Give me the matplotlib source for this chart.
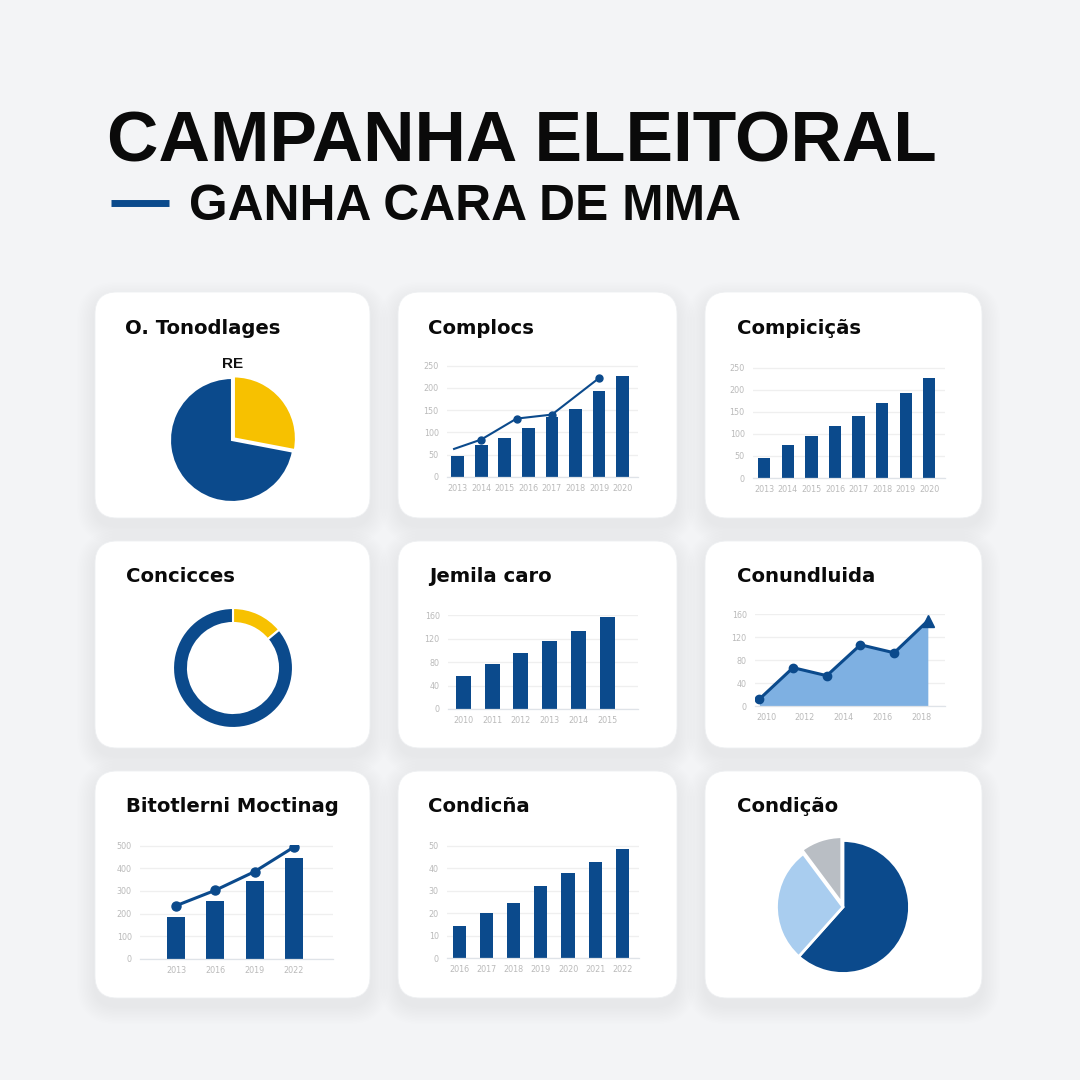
import matplotlib
matplotlib.use("Agg")
import matplotlib.pyplot as plt
from matplotlib.patches import FancyBboxPatch
import numpy as np

# ---------------- data ----------------
TITLE = "CAMPANHA ELEITORAL"
SUBTITLE = "GANHA CARA DE MMA"
CARD_TITLES = ["O. Tonodlages", "Complocs", "Compiciçãs",
               "Concicces", "Jemila caro", "Conundluida",
               "Bitotlerni Moctinag", "Condicña", "Condição"]

PIE1_LABEL = "RE"
PIE1_VALUES = [28, 72]

BAR2_LABELS = ["2013", "2014", "2015", "2016", "2017", "2018", "2019", "2020"]
BAR2_VALUES = [48, 71, 88, 110, 134, 153, 192, 226]
LINE2_X = [-0.15, 1, 2.5, 4, 6]
LINE2_VALUES = [63, 84, 131, 140, 222]
AX2_YTICKS = [0, 50, 100, 150, 200, 250]

BAR3_LABELS = ["2013", "2014", "2015", "2016", "2017", "2018", "2019", "2020"]
BAR3_VALUES = [45, 74, 96, 117, 140, 169, 193, 227]
AX3_YTICKS = [0, 50, 100, 150, 200, 250]

DONUT_VALUES = [14, 86]

BAR5_LABELS = ["2010", "2011", "2012", "2013", "2014", "2015"]
BAR5_VALUES = [57, 77, 96, 116, 133, 158]
AX5_YTICKS = [0, 40, 80, 120, 160]

AREA6_VALUES = [12, 67, 53, 107, 93, 149]
AREA6_LABELS = ["2010", "2012", "2014", "2016", "2018"]
AX6_YTICKS = [0, 40, 80, 120, 160]

BAR7_LABELS = ["2013", "2016", "2019", "2022"]
BAR7_VALUES = [186, 257, 346, 443]
LINE7_VALUES = [235, 303, 385, 493]
AX7_YTICKS = [0, 100, 200, 300, 400, 500]

BAR8_LABELS = ["2016", "2017", "2018", "2019", "2020", "2021", "2022"]
BAR8_VALUES = [14.3, 19.9, 24.4, 31.8, 37.9, 42.5, 48.5]
AX8_YTICKS = [0, 10, 20, 30, 40, 50]

PIE9_VALUES = [61.6, 28.2, 10.2]

# ---------------- style ----------------
W = H = 1080
BG = "#f3f4f6"
NAVY = "#0b4a8c"
YELLOW = "#f7c100"
LIGHT = "#a9cdef"
AREA = "#7eb0e2"
GRAY = "#b9bec4"
TICK = "#bababa"
GRID = "#efefef"
HEAD_FONT = ["Liberation Sans", "DejaVu Sans"]
CARD_FONT = ["DejaVu Sans"]

fig = plt.figure(figsize=(10.8, 10.8), dpi=100, facecolor=BG)
bg = fig.add_axes([0, 0, 1, 1])
bg.set_xlim(0, W)
bg.set_ylim(H, 0)
bg.axis("off")
bg.set_zorder(-5)


def px_axes(x0, y0, x1, y1):
    ax = fig.add_axes([x0 / W, 1 - y1 / H, (x1 - x0) / W, (y1 - y0) / H])
    ax.set_facecolor("none")
    return ax


# header
bg.text(107, 162, TITLE, fontsize=51.3, fontweight="bold", family=HEAD_FONT,
        color="#0a0a0a", va="baseline", ha="left")
bg.text(189, 220, SUBTITLE, fontsize=35.8, fontweight="bold", family=HEAD_FONT,
        color="#0a0a0a", va="baseline", ha="left")
bg.plot([111, 169], [203, 203], color=NAVY, lw=5, solid_capstyle="butt")

# cards
COLS = [(95, 370), (398, 677), (705, 982)]
ROWS = [(292, 518), (541, 748), (771, 998)]
R = 22
for (y0, y1) in ROWS:
    for (x0, x1) in COLS:
        for k in range(12, 0, -1):
            e = k * 1.5
            sh = FancyBboxPatch((x0 - e, y0 - e + 8), x1 - x0 + 2 * e, y1 - y0 + 2 * e,
                                boxstyle=f"round,pad=0,rounding_size={R + e}",
                                fc="#9aa0aa", ec="none", alpha=0.007)
            bg.add_patch(sh)
        card = FancyBboxPatch((x0, y0), x1 - x0, y1 - y0,
                              boxstyle=f"round,pad=0,rounding_size={R}",
                              fc="white", ec="#eef0f2", lw=0.6)
        bg.add_patch(card)

TITLE_POS = [(125, 328), (428, 328), (737, 328),
             (126, 576), (429, 576), (737, 576),
             (126, 807), (428, 806), (737, 806)]
for (tx, ty), t in zip(TITLE_POS, CARD_TITLES):
    bg.text(tx, ty, t, fontsize=14.1, fontweight="bold", family=CARD_FONT,
            color="#0a0a0a", va="center", ha="left")


def style_axes(ax, yticks, xlim):
    for s in ["top", "right", "left"]:
        ax.spines[s].set_visible(False)
    ax.spines["bottom"].set_color("#dfe3e8")
    ax.spines["bottom"].set_linewidth(0.9)
    ax.set_yticks(yticks)
    ax.set_ylim(0, yticks[-1] * 1.005)
    ax.set_xlim(*xlim)
    ax.yaxis.grid(True, color=GRID, lw=0.9)
    ax.set_axisbelow(True)
    ax.tick_params(axis="both", length=0, labelsize=5.8, labelcolor=TICK)
    ax.tick_params(axis="y", pad=6)
    ax.tick_params(axis="x", pad=5)


# panel 1 pie
ax = px_axes(152, 360, 312, 520)
ax.pie(PIE1_VALUES, colors=[YELLOW, NAVY], startangle=90, counterclock=False,
       explode=[0.04, 0], wedgeprops=dict(edgecolor="white", linewidth=1.5))
ax.set_xlim(-160 / 124, 160 / 124)
ax.set_ylim(-160 / 124, 160 / 124)
ax.set_aspect("equal")
bg.text(233, 364, PIE1_LABEL, fontsize=11, fontweight="bold", family=HEAD_FONT,
        color="#111111", ha="center", va="center")

# panel 2 bars + line
ax = px_axes(447, 365, 638, 477)
x = np.arange(len(BAR2_VALUES))
ax.bar(x, BAR2_VALUES, width=0.54, color=NAVY)
ax.plot(LINE2_X, LINE2_VALUES, color=NAVY, lw=1.5, marker="o", ms=5,
        markevery=[1, 2, 3, 4], zorder=4)
ax.set_xticks(x)
ax.set_xticklabels(BAR2_LABELS)
style_axes(ax, AX2_YTICKS, (-0.45, 7.65))

# panel 3 bars
ax = px_axes(753, 367, 945, 478)
x = np.arange(len(BAR3_VALUES))
ax.bar(x, BAR3_VALUES, width=0.52, color=NAVY)
ax.set_xticks(x)
ax.set_xticklabels(BAR3_LABELS)
style_axes(ax, AX3_YTICKS, (-0.48, 7.67))

# panel 4 donut
ax = px_axes(153, 588, 313, 748)
ax.pie(DONUT_VALUES, colors=[YELLOW, NAVY], startangle=90, counterclock=False,
       wedgeprops=dict(width=0.25, edgecolor="white", linewidth=1.5))
ax.set_xlim(-160 / 120, 160 / 120)
ax.set_ylim(-160 / 120, 160 / 120)
ax.set_aspect("equal")

# panel 5 bars
ax = px_axes(448, 615, 638, 709)
x = np.arange(len(BAR5_VALUES))
ax.bar(x, BAR5_VALUES, width=0.52, color=NAVY)
ax.set_xticks(x)
ax.set_xticklabels(BAR5_LABELS)
style_axes(ax, AX5_YTICKS, (-0.53, 6.07))

# panel 6 area
ax = px_axes(755, 614, 945, 706)
x = np.arange(len(AREA6_VALUES))
ax.fill_between(x, AREA6_VALUES, 0, color=AREA, lw=0, zorder=2)
ax.plot(x, AREA6_VALUES, color=NAVY, lw=2.2, zorder=3)
ax.plot(x[:-1], AREA6_VALUES[:-1], "o", color=NAVY, ms=6, zorder=4)
ax.plot(x[-1:], AREA6_VALUES[-1:], "^", color=NAVY, ms=9, zorder=4)
ax.set_xticks(np.linspace(0.2, 4.8, len(AREA6_LABELS)))
ax.set_xticklabels(AREA6_LABELS)
style_axes(ax, AX6_YTICKS, (-0.13, 5.51))

# panel 7 bars + line
ax = px_axes(140, 845, 333, 959)
x = np.arange(len(BAR7_VALUES))
ax.bar(x, BAR7_VALUES, width=0.46, color=NAVY)
ax.plot(x, LINE7_VALUES, color=NAVY, lw=2.2, marker="o", ms=6.5, zorder=4)
ax.set_xticks(x)
ax.set_xticklabels(BAR7_LABELS)
style_axes(ax, AX7_YTICKS, (-0.92, 4.0))

# panel 8 bars
ax = px_axes(447, 845, 639, 958)
x = np.arange(len(BAR8_VALUES))
ax.bar(x, BAR8_VALUES, width=0.49, color=NAVY)
ax.set_xticks(x)
ax.set_xticklabels(BAR8_LABELS)
style_axes(ax, AX8_YTICKS, (-0.45, 6.61))

# panel 9 pie
ax = px_axes(763, 827, 923, 987)
ax.pie(PIE9_VALUES, colors=[NAVY, LIGHT, GRAY], startangle=90, counterclock=False,
       explode=[0, 0, 0.06], wedgeprops=dict(edgecolor="white", linewidth=2))
ax.set_xlim(-160 / 133, 160 / 133)
ax.set_ylim(-160 / 133, 160 / 133)
ax.set_aspect("equal")

fig.savefig("out.png", dpi=100, facecolor=BG)
